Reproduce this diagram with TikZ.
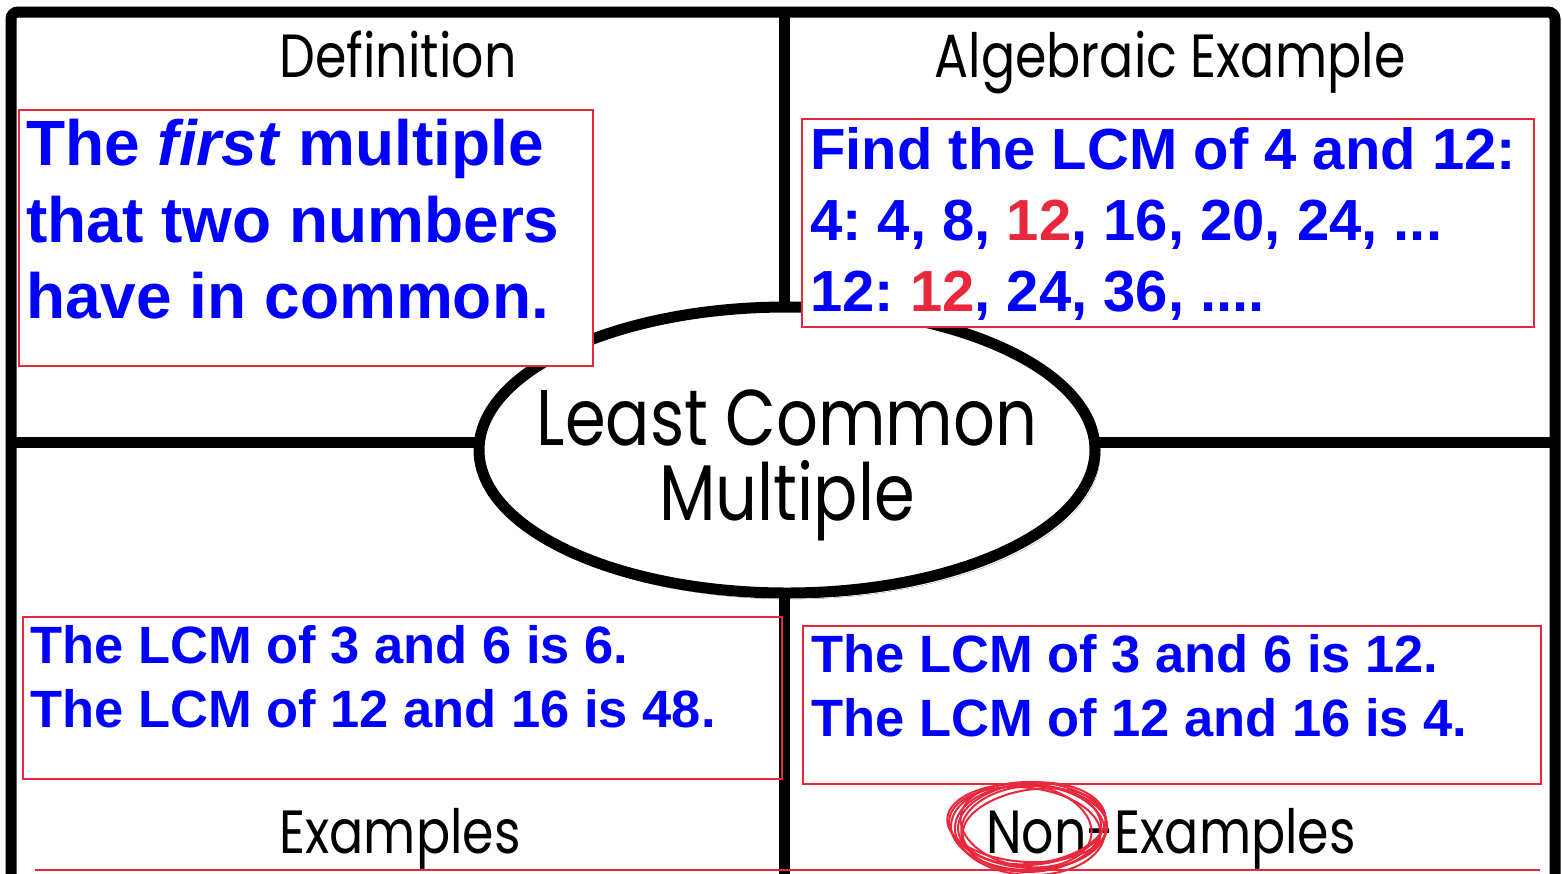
\documentclass[tikz,border=0pt]{standalone}
\usepackage{fontspec}
\setmainfont{Liberation Sans}
\newfontfamily\hand{Poppins}[FakeStretch=0.83]
\usetikzlibrary{shapes.geometric,shadows.blur}
\definecolor{bxred}{HTML}{E8283C}
\definecolor{txblue}{HTML}{0000FF}
\frenchspacing
\tikzset{
  frameline/.style={line width=11pt, black},
  redbox/.style={draw=bxred, line width=2.5pt},
  bluetxt/.style={anchor=base west, inner sep=0pt, text=txblue},
  defstyle/.style={bluetxt, font=\fontsize{64}{77}\selectfont\bfseries},
  algstyle/.style={bluetxt, font=\fontsize{58}{70}\selectfont\bfseries},
  exstyle/.style={bluetxt, font=\fontsize{52.5}{64}\selectfont\bfseries},
  headstyle/.style={anchor=base, inner sep=0pt, font=\hand\fontsize{61}{70}\selectfont},
  titlestyle/.style={anchor=base, inner sep=0pt, font=\hand\fontsize{79}{90}\selectfont},
  scribble/.style={draw=bxred, line width=2pt},
}
\begin{document}
\begin{tikzpicture}[x=1pt,y=-1pt]
\useasboundingbox (0,0) rectangle (1562,873);
\clip (0,0) rectangle (1562,873);
\fill[white] (0,0) rectangle (1562,873);
% frame and dividers
\draw[frameline, rounded corners=7pt] (11,12) rectangle (1555,930);
\draw[frameline] (784,12) -- (784,930);
\draw[frameline] (11,442) -- (1555,442);
% central ellipse
\node[ellipse, draw, line width=11pt, fill=white, minimum width=616pt, minimum height=286pt, inner sep=0pt,
      blur shadow={shadow xshift=3pt, shadow yshift=-4pt, shadow opacity=30}] (centre) at (787,450) {};
\node[titlestyle] (t1) at (787,445) {Least Common};
\node[titlestyle] (t2) at (787,520) {Multiple};
% headings
\node[headstyle] (hdef) at (398,77) {Definition};
\node[headstyle] (halg) at (1170,77) {Algebraic Example};
\node[headstyle] (hex) at (400,853) {Examples};
\node[headstyle] (hnon) at (1171,853) {Non-Examples};
% red boxes (top ones cover the ellipse)
\draw[redbox, fill=white] (19,110) rectangle (593,366);
\draw[redbox, fill=white] (802,119) rectangle (1534,327);
\draw[redbox] (23,617) rectangle (782,779);
\draw[redbox] (803,626) rectangle (1541,784);
\draw[redbox] (35,870) -- (1540,870);
% definition text
\node[defstyle] (d1) at (26,165) {The \textit{first} multiple};
\node[defstyle] (d2) at (26,242) {that two numbers};
\node[defstyle] (d3) at (26,318) {have in common.};
% algebraic text
\node[algstyle] (a1) at (810,169) {Find the LCM of 4 and 12:};
\node[algstyle] (a2) at (810,240) {4: 4, 8, \textcolor{bxred}{12}, 16, 20, 24, ...};
\node[algstyle] (a3) at (810,311) {12: \textcolor{bxred}{12}, 24, 36, ....};
% examples text
\node[exstyle] (e1) at (30,663) {The LCM of 3 and 6 is 6.};
\node[exstyle] (e2) at (30,727) {The LCM of 12 and 16 is 48.};
% non-examples text
\node[exstyle] (n1) at (811,672) {The LCM of 3 and 6 is 12.};
\node[exstyle] (n2) at (811,736) {The LCM of 12 and 16 is 4.};
% scribbled circle around "Non"
\foreach \dx/\dy/\rx/\ry/\rot in {0/0/78/44/0, 3/-2/74/41/5, -4/2/76/40/-6, 2/3/70/43/3, -2/-3/80/39/-3, 5/1/72/37/8, -3/0/66/41/-9, 1/4/75/45/-2}
  \draw[scribble, rotate around={\rot:(1029,826)}] (1029+\dx,826+\dy) ellipse [x radius=\rx, y radius=\ry];
\end{tikzpicture}
\end{document}
